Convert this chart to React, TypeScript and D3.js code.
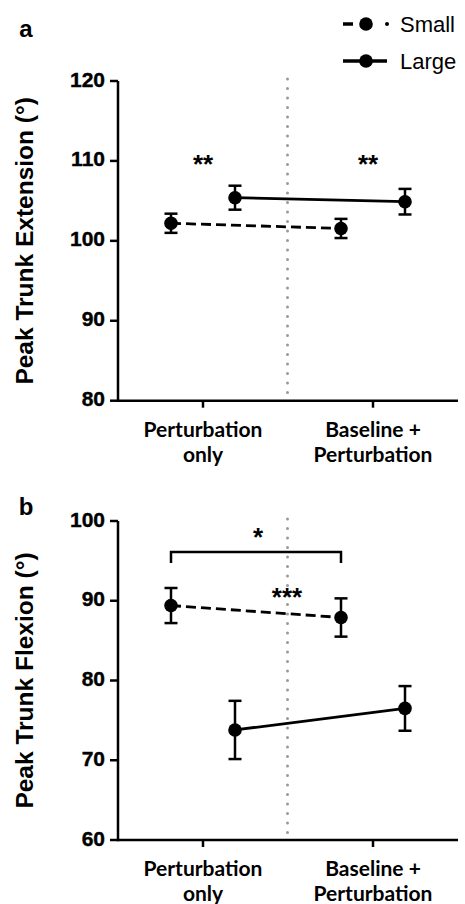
import React from "react";
import * as d3 from "d3";

const categories = ["Perturbation only", "Baseline + Perturbation"];
const categoryLines = [["Perturbation", "only"], ["Baseline +", "Perturbation"]];
const groups = ["Small", "Large"];

// Panel a: Peak Trunk Extension
const extSmallMean = [102.2, 101.55];
const extSmallErr = [1.2, 1.2];
const extLargeMean = [105.4, 104.9];
const extLargeErr = [1.5, 1.6];
const extTicks = [80, 90, 100, 110, 120];

// Panel b: Peak Trunk Flexion
const flexSmallMean = [89.4, 87.9];
const flexSmallErr = [2.2, 2.4];
const flexLargeMean = [73.8, 76.5];
const flexLargeErr = [3.65, 2.8];
const flexTicks = [60, 70, 80, 90, 100];

const ARIAL = "'Liberation Sans', Arial, sans-serif";
const CALIBRI = "Lato, 'Open Sans', sans-serif";

type PanelProps = {
  label: string;
  title: string;
  domain: [number, number];
  range: [number, number];
  ticks: number[];
  small: number[];
  smallErr: number[];
  large: number[];
  largeErr: number[];
  stars: { text: string; cat: number; value: number; dx?: number }[];
  bracket?: { value: number; text: string };
  labelY: number;
  xLabelY: number;
};

const x = d3.scalePoint<string>().domain(categories).range([118, 458]).padding(0.5);
const off = d3.scalePoint<string>().domain(groups).range([-32, 32]);

function Panel(p: PanelProps) {
  const y = d3.scaleLinear().domain(p.domain).range(p.range);
  const x0 = 118;
  const x1 = 458;
  const yBottom = y(p.domain[0]);
  const yTop = y(p.domain[1]);
  const divX = (x(categories[0])! + x(categories[1])!) / 2;
  const line = d3.line<[number, number]>().x((d) => d[0]).y((d) => d[1]);
  const series = [
    { g: "Small", m: p.small, e: p.smallErr, dash: "10 5" },
    { g: "Large", m: p.large, e: p.largeErr, dash: undefined as string | undefined },
  ];
  return (
    <g>
      <text x={26} y={p.labelY} fontFamily={ARIAL} fontWeight="bold" fontSize={24} textAnchor="middle">
        {p.label}
      </text>
      <text
        transform={`translate(24,${(yTop + yBottom) / 2}) rotate(-90)`}
        fontFamily={ARIAL}
        fontWeight="bold"
        fontSize={24.5}
        textAnchor="middle"
        dominantBaseline="central"
      >
        {p.title}
      </text>
      {/* divider */}
      <line x1={divX - 0.5} x2={divX - 0.5} y1={yTop - 2} y2={yBottom - 3} stroke="#9a9a9a" strokeWidth={3} strokeDasharray="0 9.5" strokeLinecap="round" />
      {/* axes */}
      <line x1={x0} x2={x0} y1={yTop} y2={yBottom + 1.25} stroke="#000" strokeWidth={2.5} />
      <line x1={x0} x2={x1} y1={yBottom} y2={yBottom} stroke="#000" strokeWidth={2.5} />
      {p.ticks.map((t) => (
        <g key={t}>
          <line x1={x0 - 8} x2={x0} y1={y(t)} y2={y(t)} stroke="#000" strokeWidth={2.5} />
          <text x={x0 - 13} y={y(t) - 2} fontFamily={ARIAL} fontWeight="bold" fontSize={21} stroke="#000" strokeWidth={0.4} textAnchor="end" dominantBaseline="central">
            {t}
          </text>
        </g>
      ))}
      {categories.map((c, i) => (
        <g key={c}>
          <line x1={x(c)} x2={x(c)} y1={yBottom} y2={yBottom + 7} stroke="#000" strokeWidth={2.5} />
          {categoryLines[i].map((ln, j) => (
            <text key={j} x={x(c)} y={p.xLabelY + j * 25} fontFamily={CALIBRI} fontWeight="bold" fontSize={21} textAnchor="middle">
              {ln}
            </text>
          ))}
        </g>
      ))}
      {series.map((s) => {
        const pts: [number, number][] = categories.map((c, i) => [x(c)! + off(s.g)!, y(s.m[i])]);
        return (
          <g key={s.g}>
            <path d={line(pts)!} fill="none" stroke="#000" strokeWidth={2.8} strokeDasharray={s.dash} />
            {categories.map((c, i) => {
              const cx = x(c)! + off(s.g)!;
              const yt = y(s.m[i] + s.e[i]);
              const yb = y(s.m[i] - s.e[i]);
              return (
                <g key={c}>
                  <line x1={cx} x2={cx} y1={yt} y2={yb} stroke="#000" strokeWidth={2.5} />
                  <line x1={cx - 6.5} x2={cx + 6.5} y1={yt} y2={yt} stroke="#000" strokeWidth={2.5} />
                  <line x1={cx - 6.5} x2={cx + 6.5} y1={yb} y2={yb} stroke="#000" strokeWidth={2.5} />
                  <circle cx={cx} cy={y(s.m[i])} r={6.8} fill="#000" />
                </g>
              );
            })}
          </g>
        );
      })}
      {p.stars.map((s, i) => (
        <text key={i} x={x(categories[s.cat])! + (s.dx || 0)} y={y(s.value)} fontFamily={ARIAL} fontWeight="bold" fontSize={26} textAnchor="middle" dominantBaseline="central">
          {s.text}
        </text>
      ))}
      {p.bracket && (
        <g>
          <path
            d={`M${x(categories[0])! + off("Small")!},${y(p.bracket.value) + 11}V${y(p.bracket.value)}H${x(categories[1])! + off("Small")!}V${y(p.bracket.value) + 11}`}
            fill="none"
            stroke="#000"
            strokeWidth={2.5}
          />
          <text x={divX - 30} y={y(p.bracket.value) - 6} fontFamily={ARIAL} fontWeight="bold" fontSize={26} textAnchor="middle">
            {p.bracket.text}
          </text>
        </g>
      )}
    </g>
  );
}

export default function App() {
  return (
    <svg width={465} height={904} style={{ position: "absolute", left: 0, top: 0, background: "#fff" }}>
      <rect width={465} height={904} fill="#fff" />
      {/* legend */}
      <g>
        <line x1={343} x2={353} y1={24} y2={24} stroke="#000" strokeWidth={3.5} />
        <circle cx={366} cy={24} r={6.8} fill="#000" />
        <circle cx={387} cy={24} r={2} fill="#000" />
        <text x={400} y={24} fontFamily={ARIAL} fontSize={22} dominantBaseline="central">{groups[0]}</text>
        <line x1={343} x2={387} y1={61} y2={61} stroke="#000" strokeWidth={3.5} />
        <circle cx={366} cy={61} r={6.8} fill="#000" />
        <text x={400} y={61} fontFamily={ARIAL} fontSize={22} dominantBaseline="central">{groups[1]}</text>
      </g>
      <Panel
        label="a"
        title="Peak Trunk Extension (°)"
        domain={[80, 120]}
        range={[400.7, 81]}
        ticks={extTicks}
        small={extSmallMean}
        smallErr={extSmallErr}
        large={extLargeMean}
        largeErr={extLargeErr}
        stars={[
          { text: "**", cat: 0, value: 109.6 },
          { text: "**", cat: 1, value: 109.6, dx: -5 },
        ]}
        labelY={37}
        xLabelY={437}
      />
      <Panel
        label="b"
        title="Peak Trunk Flexion (°)"
        domain={[60, 100]}
        range={[840, 521]}
        ticks={flexTicks}
        small={flexSmallMean}
        smallErr={flexSmallErr}
        large={flexLargeMean}
        largeErr={flexLargeErr}
        stars={[{ text: "***", cat: 0, value: 90.5, dx: 84 }]}
        bracket={{ value: 96.1, text: "*" }}
        labelY={515}
        xLabelY={876}
      />
    </svg>
  );
}
